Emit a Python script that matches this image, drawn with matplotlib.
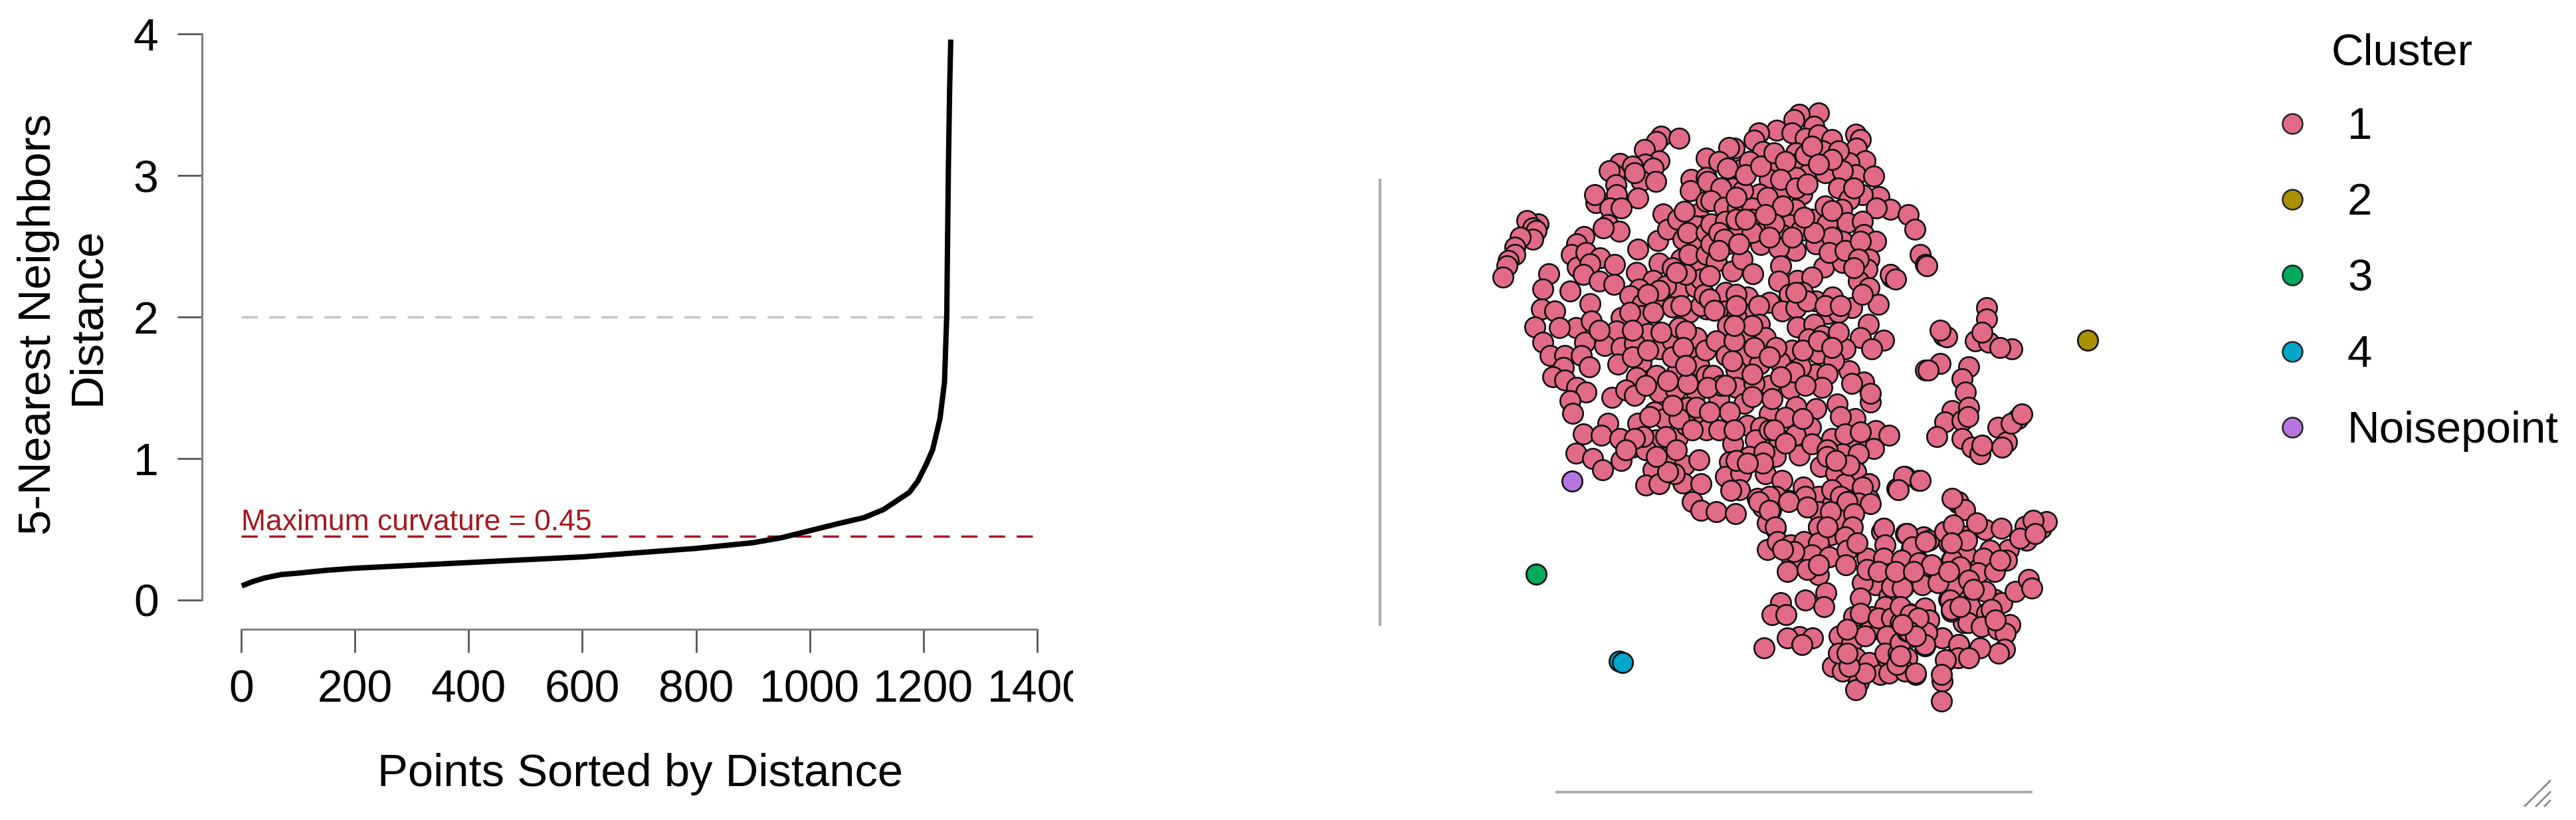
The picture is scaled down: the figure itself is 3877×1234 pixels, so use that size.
import numpy as np
import matplotlib
matplotlib.use('Agg')
import matplotlib.pyplot as plt
from matplotlib.lines import Line2D
from matplotlib.transforms import Bbox

plt.rcParams['font.family'] = ['Liberation Sans', 'DejaVu Sans']

W, H = 3877, 1234

# k-NN distance curve
sorted_idx = [1, 20, 40, 70, 100, 150, 200, 300, 400, 500, 600, 650, 700, 800, 900, 950, 1000, 1050,
              1096, 1130, 1160, 1175, 1190, 1205, 1216, 1229, 1237, 1241, 1242, 1244, 1246, 1248]
knn_dist = [0.10, 0.13, 0.155, 0.18, 0.19, 0.21, 0.225, 0.245, 0.265, 0.285, 0.305, 0.32, 0.335, 0.365,
            0.405, 0.44, 0.49, 0.54, 0.583, 0.64, 0.72, 0.76, 0.84, 0.96, 1.06, 1.28, 1.54, 2.02, 2.4,
            3.1, 3.6, 3.96]
knee = 0.45
x_ticks = [0, 200, 400, 600, 800, 1000, 1200, 1400]
y_ticks = [0, 1, 2, 3, 4]

# cluster 1, read crop by crop (crop origin, then position in the 3x crop)
crop_a_origin = (2240, 150)
crop_a = [(780,165),(860,175),(760,190),(705,225),(770,275),(708,290),(595,288),(650,300),(745,310),
          (690,365),(755,370),(660,330),(570,340),(545,320),(575,385),(580,430),(675,445),(485,465),
          (548,490),(600,490),(480,430),(540,565),(590,595),(520,580),(225,560),(175,545),(200,580),
          (215,590),(200,630),(145,620),(120,665),(120,700),(90,725),(85,750),(65,800),(432,618),
          (400,650),(375,700),(403,755),(440,690),(505,715),(570,745),(460,740),(430,790),(500,820),
          (567,835),(272,785),(245,855),(370,865),(240,945),(300,955),(458,920),(675,675),(765,635),
          (790,515),(810,585),(855,540),(880,630),(945,670),(945,515),(915,360),(913,410),(985,460),
          (985,265),(985,350),(970,570),(940,570),(770,738),(670,780),(745,815),(680,855),(640,885),
          (860,865),(935,845),(950,745),(870,720),(830,760),(800,840),(695,920),(770,910),(830,935),
          (905,960),(985,945),(690,975),(600,985),(960,810),(890,790),
          # half hidden ones
          (905,700),(900,600),(850,780),(770,860),(720,880),(960,930),(870,930),(745,960),(640,960),
          (985,700),(985,600),(975,880),(885,505)]

crop_b_origin = (2570, 150)
crop_b = [(500,60),(415,65),(390,90),(480,120),(312,138),(230,150),(210,182),(380,150),(440,175),
          (500,160),(560,180),(670,155),(690,180),(672,220),(710,275),(640,285),(668,340),(750,345),
          (775,438),(700,430),(825,495),(762,490),(905,518),(935,585),(480,270),(520,230),(400,240),
          (250,235),(120,220),(95,215),(50,280),(150,315),(90,310),(190,280),(322,290),(395,290),
          (460,330),(530,330),(590,230),(610,320),(280,360),(0,370),(115,400),(60,400),(360,360),
          (425,425),(235,425),(160,410),(590,400),(640,450),(400,350),(330,420),(15,455),(75,485),
          (135,490),(200,490),(290,505),(395,495),(470,540),(530,480),(605,495),(630,555),(700,550),
          (15,560),(80,550),(145,590),(200,540),(370,565),(250,600),(335,610),(420,590),(540,560),
          (490,650),(610,640),(705,610),(760,640),(90,650),(15,650),(240,655),(395,680),(320,670),
          (560,620),(650,690),(730,720),(40,730),(110,775),(155,720),(205,785),(330,750),(525,755),
          (610,735),(720,765),(680,820),(405,815),(470,800),(430,870),(320,820),(730,850),(80,870),
          (180,890),(280,915),(370,880),(488,910),(565,890),(650,940),(770,925),(700,880),(10,900),
          (80,955),(335,955),(400,940),(540,965),(210,960),(130,980),(590,960),(830,800),(825,790),
          (960,700),(985,745),(10,795),(130,880),
          # half hidden ones
          (170,340),(240,300),(300,240),(350,280),(440,250),(470,210),(560,270),(500,290),(330,360),
          (400,400),(270,440),(130,440),(340,480),(450,380),(660,400),(560,500),(480,600),(435,530),
          (300,560),(200,600),(130,540),(50,600),(75,630),(260,520),(170,540),(550,690),(620,680),
          (690,640),(680,720),(660,760),(140,650),(50,680),(380,620),(280,620),(450,910),(530,930),
          (600,930),(230,930),(130,930),(30,950),(400,870)]

crop_c_origin = (2240, 480)
crop_c = [(210,35),(395,40),(320,40),(465,10),(580,55),(720,65),(245,105),(435,105),(525,120),
          (600,130),(770,135),(830,100),(660,110),(280,165),(345,165),(420,165),(690,195),(585,205),
          (455,215),(945,155),(860,40),(940,85),(890,55),(340,220),(290,260),(345,275),(670,265),
          (760,255),(850,245),(950,210),(400,310),(440,330),(558,355),(620,320),(660,345),(770,330),
          (845,320),(940,330),(985,255),(370,370),(380,425),(900,400),(750,420),(795,450),(675,470),
          (540,470),(960,440),(430,520),(510,525),(595,540),(755,545),(855,535),(895,480),(985,500),
          (395,605),(470,630),(515,680),(600,640),(650,580),(710,590),(805,625),(885,660),(950,635),
          (745,680),(710,750),(770,745),(880,740),(960,745),(920,825),(960,865),(840,700),(860,450),
          (730,440),(920,500),
          # half hidden ones
          (500,50),(650,50),(780,60),(650,170),(720,140),(830,170),(880,130),(900,290),(710,300),
          (810,280),(890,210),(980,140),(830,390),(940,400),(800,530),(700,530),(660,540),(850,590),
          (810,690),(760,620),(620,590)]

crop_d_origin = (2570, 480)
crop_d = [(235,25),(405,35),(480,25),(725,25),(90,30),(165,80),(40,100),(260,85),(380,140),(455,90),
          (690,85),(795,95),(620,135),(740,135),(165,165),(85,165),(500,155),(520,75),(590,60),
          (235,205),(328,195),(640,235),(570,190),(25,255),(130,230),(485,250),(420,215),(540,250),
          (705,285),(650,290),(280,300),(375,315),(515,310),(130,310),(735,375),(735,335),(50,360),
          (165,380),(585,385),(490,405),(400,395),(280,430),(350,445),(290,360),(100,420),(665,450),
          (600,440),(10,420),(180,480),(50,500),(465,490),(395,525),(320,540),(760,505),(820,525),
          (750,585),(560,540),(670,560),(240,490),(115,565),(215,545),(305,620),(415,615),(610,610),
          (680,610),(470,565),(100,645),(190,620),(255,600),(510,665),(580,695),(670,690),(80,710),
          (150,695),(260,700),(335,730),(620,745),(730,745),(145,770),(105,775),(432,760),(225,810),
          (365,820),(630,815),(730,815),(500,800),(450,850),(560,840),(40,870),(125,880),(285,865),
          (595,900),(305,945),(500,940),(650,890),(270,920),(630,970),(555,975),(795,945),(890,710),
          (955,730),(855,765),(785,960),(900,970),(985,230),(975,985),(60,300),(210,290),(0,310),
          # half hidden ones
          (120,100),(210,130),(310,130),(200,30),(120,30),(430,140),(500,100),(560,130),(280,170),
          (110,190),(390,240),(200,250),(440,300),(330,260),(200,350),(80,300),(120,500),(280,500),
          (430,450),(540,590),(620,520),(690,510),(130,640),(300,500),(350,560),(250,650),(180,650),
          (540,620),(640,660),(580,640),(700,760),(560,770),(600,800),(500,870),(680,830),(560,920),
          (620,850),(250,850),(310,800),(280,800),(440,800)]

crop_e_origin = (2850, 400)
crop_e = [(150,0),(10,60),(225,315),(240,320),(210,290),(420,190),(420,240),(370,340),(430,345),
          (400,300),(535,375),(480,370),(210,440),(155,470),(340,455),(310,510),(325,570),(265,655),
          (340,640),(230,705),(310,700),(335,680),(195,770),(310,780),(355,820),(390,850),(400,810),
          (470,730),(510,795),(490,820),(560,690),(530,710),(580,670)]

crop_f_origin = (2640, 750)
crop_f = [(20,15),(155,15),(240,40),(420,15),(525,25),(70,55),(385,95),(95,130),(290,130),(345,60),
          (450,70),(445,130),(585,135),(685,160),(860,150),(920,20),(590,210),(410,175),(60,230),
          (105,195),(165,210),(225,195),(290,200),(260,255),(340,265),(420,235),(510,270),(585,270),
          (465,200),(710,225),(790,190),(880,200),(945,170),(950,250),(170,280),(150,330),(290,345),
          (240,320),(415,300),(670,280),(745,285),(890,280),(945,320),(615,340),(550,390),(490,380),
          (675,400),(745,350),(830,320),(905,400),(820,375),(480,450),(610,440),(770,500),(640,510),
          (700,520),(880,455),(325,425),(230,460),(120,470),(315,490),(80,525),(145,525),(450,535),
          (530,535),(590,490),(790,545),(945,560),(890,510),(385,620),(440,650),(520,600),(570,590),
          (620,580),(680,580),(780,600),(850,630),(205,625),(150,630),(265,630),(215,660),(45,675),
          (620,660),(680,640),(770,665),(925,660),(915,715),(870,730),(460,720),(355,760),(400,780),
          (520,740),(570,795),(640,750),(690,720),(730,795),(600,720),(470,830),(460,865),(850,825),
          (845,915),(380,700),
          # half hidden ones
          (330,130),(510,320),(560,330),(680,330),(720,280),(620,400),(480,520),(560,540),(620,540),
          (660,560),(500,620),(420,590),(600,620),(720,560),(740,620),(590,700),(650,700),(610,790),
          (680,780),(500,790),(430,760),(420,700),(880,350),(940,400),(900,480),(290,300),(180,240),
          (130,230)]

crop_g_origin = (2850, 700)
crop_g = [(45,50),(120,70),(20,110),(290,165),(320,200),(265,150),(230,300),(325,320),(270,270),
          (415,290),(485,285),(375,260),(595,275),(665,285),(690,255),(630,250),(600,340),(520,380),
          (435,385),(325,400),(405,420),(380,485),(455,480),(510,430),(265,430),(275,510),(270,550),
          (345,640),(420,670),(455,605),(415,570),(490,620),(550,570),(610,515),(625,555),(335,710),
          (395,730),(470,740),(525,720),(505,760),(500,830),(475,850),(390,825),(220,780),(295,810),
          (290,870),(340,870),(235,880),(255,610),(260,650),(140,645),(160,700),(150,755),(140,810),
          (60,310),(85,370),(145,345),(35,430),(115,440),(115,510),(130,540),(40,555),(205,480),
          (200,530),(215,945),(100,940),(15,900),(30,640),(75,675),(30,800),(60,750),(10,480),
          # half hidden ones
          (170,450),(300,460),(340,520),(360,560),(250,480),(300,640),(440,650),(460,700),(330,340),
          (260,350),(480,430),(570,330),(640,310),(90,480),(110,690),(70,750),(100,770),(40,720),
          (30,860)]

# the small clusters
cluster2 = [(3142, 512)]
cluster3 = [(2312, 864)]
cluster4 = [(2437, 995), (2442, 997)]
noise = [(2366, 724)]

cluster_labels = ['1', '2', '3', '4', 'Noisepoint']
cluster_colors = ['#E16A86', '#AA9000', '#00AA5A', '#00A6CA', '#B675E0']


def rect(left, top, right, bottom):
    return [left / W, 1 - bottom / H, (right - left) / W, (bottom - top) / H]


def fx(px):
    return px / W


def fy(py):
    return 1 - py / H


fig = plt.figure(figsize=(W / 100, H / 100), dpi=100, facecolor='white')

# left panel
ax = fig.add_axes(rect(363, 51, 1561, 903))
ax.set_xlim(0, 1400)
ax.set_ylim(0, 4)
ax.axhline(2, color='#c4c4c4', lw=2.5, dashes=(7, 5), zorder=1)
ax.axhline(knee, color='#a5191e', lw=2.5, dashes=(7, 5), zorder=1)
ax.plot(sorted_idx, knn_dist, color='black', lw=5.8, clip_on=False, zorder=3, solid_capstyle='butt')
ax.text(0, 0.45, 'Maximum curvature = %.2f' % knee, color='#a5191e', fontsize=32, va='bottom', ha='left')

for side in ['top', 'right']:
    ax.spines[side].set_visible(False)
ax.spines['left'].set_position(('outward', 42.5))
ax.spines['bottom'].set_position(('outward', 31.7))
ax.spines['left'].set_bounds(0, 4)
ax.spines['bottom'].set_bounds(0, 1400)
for side in ['left', 'bottom']:
    ax.spines[side].set_color('#808080')
    ax.spines[side].set_linewidth(2.2)
ax.set_xticks(x_ticks)
ax.set_yticks(y_ticks)
ax.tick_params(axis='x', length=25, width=2, color='#555555', pad=18, labelsize=49)
ax.tick_params(axis='y', length=27, width=2, color='#555555', pad=20, labelsize=49)
# last x label is cut off by the edge of the panel in the source
last = ax.get_xticklabels()[-1]
last.set_clip_on(True)
last.set_clip_box(Bbox([[0, 0], [1615, H]]))

fig.text(fx(963), fy(1165), 'Points Sorted by Distance', fontsize=49.5, ha='center', va='center')
fig.text(fx(58), fy(488), '5-Nearest Neighbors', fontsize=49.5, rotation=90, ha='center', va='center')
fig.text(fx(132), fy(476), 'Distance', fontsize=49.5, rotation=90, ha='center', va='center')

# right panel
ax2 = fig.add_axes(rect(2077, 150, 3230, 1192))
ax2.set_xlim(2077, 3230)
ax2.set_ylim(1192, 150)
ax2.patch.set_alpha(0)

crops = [(crop_a_origin, crop_a), (crop_b_origin, crop_b), (crop_c_origin, crop_c), (crop_d_origin, crop_d),
         (crop_e_origin, crop_e), (crop_f_origin, crop_f), (crop_g_origin, crop_g)]
dim1 = []
dim2 = []
for origin, pts in crops:
    for px, py in pts:
        dim1.append(origin[0] + px / 3)
        dim2.append(origin[1] + py / 3)

groups = [list(zip(dim1, dim2)), cluster2, cluster3, cluster4, noise]
for pts, col in zip(groups, cluster_colors):
    arr = np.array(pts)
    ax2.scatter(arr[:, 0], arr[:, 1], s=480, facecolor=col, edgecolor='#111111', linewidth=1.9, clip_on=False)

for side in ['top', 'right']:
    ax2.spines[side].set_visible(False)
ax2.spines['left'].set_bounds(271, 940)
ax2.spines['bottom'].set_bounds(2343, 3057)
for side in ['left', 'bottom']:
    ax2.spines[side].set_color('#aaaaaa')
    ax2.spines[side].set_linewidth(2.8)
ax2.set_xticks([])
ax2.set_yticks([])

# legend
fig.text(fx(3509), fy(81), 'Cluster', fontsize=48.5, ha='left', va='center')
legend_y = [186, 300, 414, 529, 643]
for py, lab, col in zip(legend_y, cluster_labels, cluster_colors):
    fig.add_artist(Line2D([fx(3450)], [fy(py)], marker='o', ms=21.6, mew=1.8, mfc=col, mec='#222222',
                          ls='none', transform=fig.transFigure))
    fig.text(fx(3533), fy(py + 6), lab, fontsize=48.5, ha='left', va='center')

# resize handle in the corner of the screenshot
for x0 in [3800, 3817, 3830]:
    fig.add_artist(Line2D([fx(x0), fx(3838)], [fy(1213), fy(1213 - (3838 - x0))], color='#8a8a8a', lw=2,
                          transform=fig.transFigure))

fig.savefig('out.png', dpi=100)
